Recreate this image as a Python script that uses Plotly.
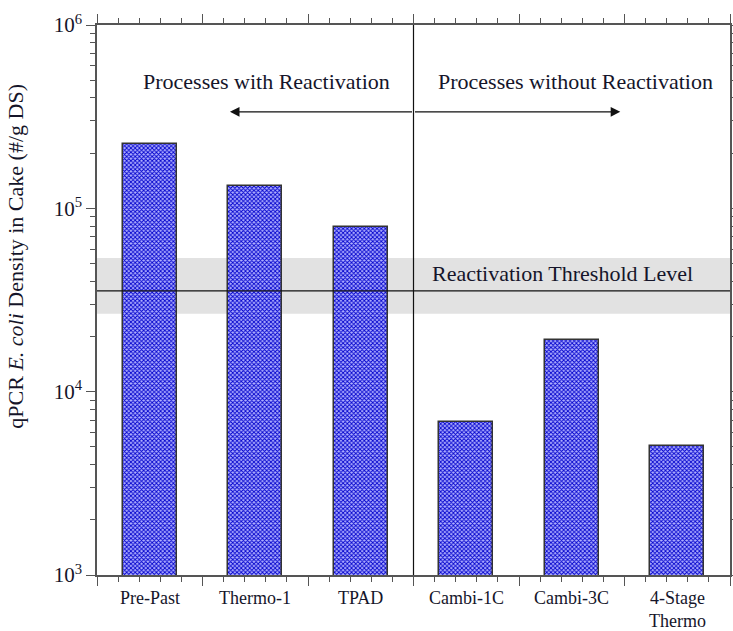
import plotly.graph_objects as go
import numpy as np

categories = ["Pre-Past", "Thermo-1", "TPAD", "Cambi-1C", "Cambi-3C", "4-Stage<br>Thermo"]
density = [2.25e5, 1.33e5, 7.95e4, 6.8e3, 1.91e4, 5.07e3]
threshold = 3.55e4
threshold_band = [2.66e4, 5.36e4]
y_tick_vals = [1e3, 1e4, 1e5, 1e6]
y_tick_text = ["10<sup>3</sup>", "10<sup>4</sup>", "10<sup>5</sup>", "10<sup>6</sup>"]

FONT = "Liberation Serif"
TXT = "#15152a"
AX = "#555555"

x_pos = list(range(len(categories)))

fig = go.Figure()
fig.add_trace(go.Bar(
    x=x_pos, y=density, width=0.51,
    marker=dict(color="#5a5af0",
                line=dict(color="#333333", width=1.5),
                pattern=dict(shape="x", size=3, solidity=0.5,
                             fgcolor="#0000cc", bgcolor="#b0b0ff", fillmode="replace")),
    showlegend=False, hoverinfo="skip",
))

# band (below bars)
fig.add_shape(type="rect", xref="x", yref="y", x0=-0.5, x1=5.5,
              y0=threshold_band[0], y1=threshold_band[1],
              fillcolor="#e2e2e2", line=dict(width=0), layer="below")
# threshold line
fig.add_shape(type="line", xref="x", yref="y", x0=-0.5, x1=5.5,
              y0=threshold, y1=threshold, line=dict(color="#111111", width=1.2))
# divider
fig.add_shape(type="line", xref="x", yref="paper", x0=2.5, x1=2.5,
              y0=0, y1=1, line=dict(color="#111111", width=1.2))

ann = []
# arrows
arrow_y = np.log10(3.36e5)
for xe in [0.76, 4.46]:
    ann.append(dict(x=xe, y=arrow_y, ax=2.5, ay=arrow_y, xref="x", yref="y",
                    axref="x", ayref="y", text="", showarrow=True,
                    arrowhead=2, arrowsize=1.6, arrowwidth=1.2, arrowcolor="#111111"))
ann.append(dict(x=1.11, y=5.69, xref="x", yref="y", text="Processes with Reactivation",
                showarrow=False, font=dict(family=FONT, size=22, color=TXT)))
ann.append(dict(x=4.04, y=5.69, xref="x", yref="y", text="Processes without Reactivation",
                showarrow=False, font=dict(family=FONT, size=22, color=TXT)))
ann.append(dict(x=3.91, y=np.log10(4.4e4), xref="x", yref="y", text="Reactivation Threshold Level",
                showarrow=False, font=dict(family=FONT, size=22, color=TXT)))
for i, c in enumerate(categories):
    ann.append(dict(x=i, y=0, xref="x", yref="paper", yanchor="top", yshift=-11,
                    text=c, showarrow=False,
                    font=dict(family=FONT, size=18, color=TXT)))
ann.append(dict(x=-0.13, y=0.58, xref="paper", yref="paper", textangle=-90,
                xanchor="center", yanchor="middle",
                text="qPCR <i>E. coli</i> Density in Cake (#/g DS)", showarrow=False,
                font=dict(family=FONT, size=22, color=TXT)))

fig.update_layout(
    width=733, height=631,
    margin=dict(l=97, r=3, t=25, b=56),
    paper_bgcolor="white", plot_bgcolor="white",
    annotations=ann,
    font=dict(family=FONT, color=TXT),
    bargap=0,
)
fig.update_xaxes(range=[-0.5, 5.5], tickvals=[-0.5, 0.5, 1.5, 2.5, 3.5, 4.5, 5.5],
                 showticklabels=False, ticks="outside", ticklen=9, tickcolor=AX, tickwidth=1.2,
                 showline=True, linecolor=AX, linewidth=1.5, mirror="ticks",
                 showgrid=False, zeroline=False, automargin=False,
                 minor=dict(tick0=-0.5, dtick=0.2, ticks="outside", ticklen=5,
                            tickcolor=AX, tickwidth=1.2, showgrid=False))
minor_vals = [m * 10 ** e for e in range(3, 6) for m in range(2, 10)]
fig.update_yaxes(type="log", range=[3, 6], tickvals=y_tick_vals, ticktext=y_tick_text,
                 ticks="outside", ticklen=9, tickcolor=AX, tickwidth=1.2,
                 showline=True, linecolor=AX, linewidth=1.5, mirror="ticks",
                 showgrid=False, zeroline=False, automargin=False,
                 tickfont=dict(family=FONT, size=21, color=TXT),
                 minor=dict(tickvals=minor_vals, ticks="outside", ticklen=5,
                            tickcolor=AX, tickwidth=1.2, showgrid=False))

fig.write_html("out.html")
